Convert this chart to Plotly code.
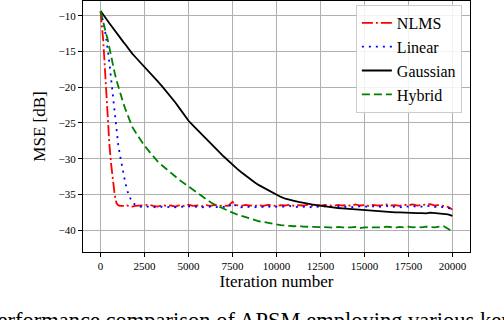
import plotly.graph_objects as go

# Iteration sample points
iterations = [0, 50, 100, 150, 200, 300, 400, 500, 600, 700, 800, 900, 1000,
              1100, 1200, 1300, 1400, 1500, 1600, 1800, 2000,
              2250, 2500, 2750, 3000, 3250, 3500, 3750, 4000,
              4250, 4500, 4750, 5000, 5250, 5500, 5750, 6000,
              6250, 6500, 6750, 7000, 7250, 7500, 7750, 8000,
              8250, 8500, 8750, 9000, 9250, 9500, 9750, 10000,
              10250, 10500, 10750, 11000, 11250, 11500, 11750, 12000,
              12250, 12500, 12750, 13000, 13250, 13500, 13750, 14000,
              14250, 14500, 14750, 15000, 15250, 15500, 15750, 16000,
              16250, 16500, 16750, 17000, 17250, 17500, 17750, 18000,
              18250, 18500, 18750, 19000, 19250, 19500, 19750, 20000]

nlms = [-9.4, -10.5, -12.0, -13.5, -15.5, -20.2, -24.2, -28.0, -30.8, -33.0, -35.0, -36.2, -36.5,
        -36.6, -36.55, -36.6, -36.65, -36.55, -36.6, -36.7, -36.6,
        -36.55, -36.6, -36.45, -36.6, -36.7, -36.5, -36.6, -36.55,
        -36.7, -36.5, -36.6, -36.45, -36.6, -36.55, -36.65, -36.5,
        -36.6, -36.45, -36.6, -36.55, -36.6, -36.05, -36.5, -36.6,
        -36.45, -36.55, -36.6, -36.5, -36.6, -36.45, -36.55, -36.6,
        -36.5, -36.55, -36.4, -36.6, -36.5, -36.55, -36.45, -36.6,
        -36.5, -36.55, -36.45, -36.5, -36.6, -36.45, -36.55, -36.5,
        -36.6, -36.4, -36.55, -36.5, -36.6, -36.45, -36.55, -36.5,
        -36.4, -36.55, -36.5, -36.6, -36.45, -36.5, -36.4, -36.55,
        -36.5, -36.45, -36.35, -36.55, -36.5, -36.6, -36.75, -37.1]

linear = [-9.4, -9.9, -10.3, -10.8, -11.4, -12.8, -14.5, -16.6, -18.9, -21.4, -23.8, -26.2, -28.0,
          -29.5, -30.9, -32.2, -33.3, -34.3, -35.1, -36.1, -36.5,
          -36.7, -36.8, -36.65, -36.75, -36.85, -36.7, -36.8, -36.7,
          -36.8, -36.7, -36.75, -36.65, -36.8, -36.7, -36.8, -36.75,
          -36.7, -36.8, -36.7, -36.75, -36.8, -36.2, -36.7, -36.8,
          -36.7, -36.75, -36.8, -36.7, -36.75, -36.65, -36.8, -36.7,
          -36.75, -36.7, -36.6, -36.8, -36.7, -36.75, -36.65, -36.8,
          -36.7, -36.75, -36.65, -36.75, -36.8, -36.65, -36.7, -36.75,
          -36.8, -36.65, -36.7, -36.75, -36.7, -36.65, -36.75, -36.7,
          -36.6, -36.75, -36.7, -36.8, -36.65, -36.7, -36.6, -36.75,
          -36.7, -36.65, -36.6, -36.75, -36.7, -36.8, -36.85, -37.0]

gaussian = [-9.35, -9.5, -9.7, -9.85, -10.0, -10.35, -10.7, -11.05, -11.4, -11.7, -12.05, -12.35, -12.7,
            -13.0, -13.35, -13.7, -14.0, -14.35, -14.7, -15.3, -15.85,
            -16.5, -17.1, -17.8, -18.5, -19.2, -19.9, -20.6, -21.35,
            -22.15, -23.0, -23.85, -24.7, -25.35, -26.0, -26.65, -27.3,
            -27.9, -28.5, -29.1, -29.7, -30.3, -30.9, -31.4, -31.9,
            -32.4, -32.85, -33.3, -33.7, -34.05, -34.4, -34.75, -35.05,
            -35.35, -35.6, -35.8, -35.9, -36.05, -36.2, -36.3, -36.4,
            -36.5, -36.6, -36.7, -36.75, -36.85, -36.9, -36.95, -37.0,
            -37.05, -37.15, -37.2, -37.25, -37.3, -37.25, -37.35, -37.4,
            -37.4, -37.45, -37.5, -37.5, -37.55, -37.6, -37.55, -37.6,
            -37.6, -37.65, -37.55, -37.6, -37.6, -37.65, -37.8, -38.0]

hybrid = [-9.35, -9.9, -10.5, -11.05, -11.6, -12.4, -13.3, -14.6, -15.8, -16.9, -18.0, -19.0, -19.9,
          -20.7, -21.5, -22.3, -23.0, -23.7, -24.3, -25.55, -26.35,
          -27.3, -28.2, -28.95, -29.7, -30.4, -30.95, -31.5, -32.0,
          -32.5, -33.0, -33.45, -33.9, -34.35, -34.8, -35.3, -35.75,
          -36.1, -36.45, -36.75, -37.0, -37.3, -37.55, -37.8, -38.0,
          -38.2, -38.45, -38.6, -38.75, -38.85, -39.0, -39.1, -39.2,
          -39.3, -39.3, -39.4, -39.45, -39.4, -39.5, -39.5, -39.55,
          -39.5, -39.6, -39.55, -39.6, -39.65, -39.55, -39.6, -39.65,
          -39.6, -39.55, -39.7, -39.6, -39.6, -39.55, -39.65, -39.6,
          -39.5, -39.6, -39.65, -39.55, -39.6, -39.5, -39.6, -39.55,
          -39.6, -39.5, -39.55, -39.6, -39.5, -39.45, -39.8, -40.2]

x_ticks = [0, 2500, 5000, 7500, 10000, 12500, 15000, 17500, 20000]
x_tick_labels = ["0", "2500", "5000", "7500", "10000", "12500", "15000", "17500", "20000"]
y_ticks = [-10, -15, -20, -25, -30, -35, -40]

SERIF = "Liberation Serif"

series = [
    ("NLMS", nlms, "#ff0000", "11px,3px,2px,3px"),
    ("Linear", linear, "#0000ff", "2px,5px"),
    ("Gaussian", gaussian, "#000000", "solid"),
    ("Hybrid", hybrid, "#008000", "8px,4px"),
]

fig = go.Figure()
for name, ys, color, dash in series:
    fig.add_trace(go.Scatter(
        x=iterations, y=ys, mode="lines", name=name,
        line=dict(color=color, width=1.8, dash=dash),
    ))

fig.update_layout(
    width=504, height=320,
    margin=dict(l=83, r=34, t=1, b=68),
    paper_bgcolor="white", plot_bgcolor="white",
    font=dict(family=SERIF, color="black", size=11),
    showlegend=True,
    legend=dict(
        x=0.979, y=0.984, xanchor="right", yanchor="top",
        bgcolor="rgba(255,255,255,0.85)", bordercolor="#cccccc", borderwidth=1,
        font=dict(family=SERIF, size=16, color="black"),
    ),
    xaxis=dict(
        range=[-1000, 21000], tickvals=x_ticks, ticktext=x_tick_labels,
        showgrid=True, gridcolor="#b0b0b0", gridwidth=1,
        showline=True, linecolor="black", linewidth=1.2, mirror=True,
        ticks="outside", ticklen=4, tickcolor="black",
        zeroline=False, tickfont=dict(size=11),
        title=dict(text="Iteration number", font=dict(size=17), standoff=3),
    ),
    yaxis=dict(
        range=[-43.05, -7.95], tickvals=y_ticks,
        showgrid=True, gridcolor="#b0b0b0", gridwidth=1,
        showline=True, linecolor="black", linewidth=1.2, mirror=True,
        ticks="outside", ticklen=4, tickcolor="black",
        zeroline=False, tickfont=dict(size=11),
        title=dict(text="MSE [dB]", font=dict(size=17), standoff=8),
    ),
    annotations=[dict(
        text="Performance comparison of APSM employing various kernels",
        xref="paper", yref="paper", x=-0.259, y=-0.331,
        xanchor="left", yanchor="bottom", showarrow=False,
        font=dict(family=SERIF, size=22.5, color="black"),
    )],
)

fig.write_html("out.html", config={"displayModeBar": False},
               post_script="document.body.style.margin='0px';")
